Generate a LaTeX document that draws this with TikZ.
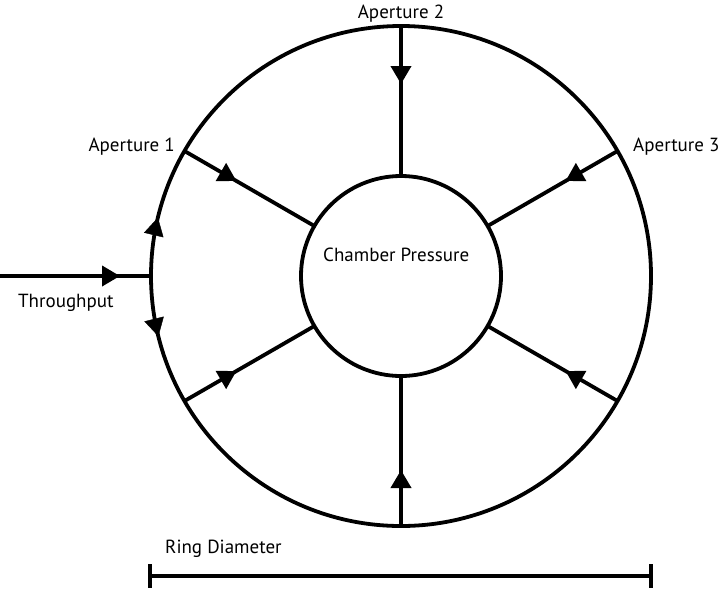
\documentclass[tikz,border=0pt]{standalone}
\usepackage{fontspec}
\setmainfont{PT Sans}
\usetikzlibrary{arrows.meta,decorations.markings}
\tikzset{
  ln/.style={line width=3.8pt},
  midarrow/.style={postaction={decorate},decoration={markings,mark=at position #1 with {\arrow{Triangle[width=20pt,length=18pt]}}}},
  ring/.style={ln, draw, circle, inner sep=0pt, outer sep=0pt},
  lbl/.style={font=\fontsize{19}{22}\selectfont, inner sep=0pt},
}
\begin{document}
\begin{tikzpicture}[x=1pt,y=-1pt]
\useasboundingbox (0,0) rectangle (722,590);
\node[ring, minimum size=500pt] (outer) at (401,276) {};
\node[ring, minimum size=200pt] (inner) at (401,276) {};
% spokes
\draw[ln, midarrow=58pt] (outer.90) -- (inner.90);
\draw[ln, midarrow=60pt] (outer.150) -- (inner.150);
\draw[ln, midarrow=60pt] (outer.30) -- (inner.30);
\draw[ln, midarrow=60pt] (outer.210) -- (inner.210);
\draw[ln, midarrow=60pt] (outer.330) -- (inner.330);
\draw[ln, midarrow=56pt] (outer.270) -- (inner.270);
% throughput
\coordinate (tin) at (0,276);
\draw[ln, midarrow=120pt] (tin) -- (outer.west);
\path[midarrow=59pt] (outer.west) arc[start angle=180, end angle=205, radius=250];
\path[midarrow=61pt] (outer.west) arc[start angle=180, end angle=155, radius=250];
% ring diameter bar
\coordinate (rl) at (150,576);
\coordinate (rr) at (651,576);
\draw[ln] (rl) -- (rr);
\draw[ln] ([yshift=12pt]rl) -- ([yshift=-12pt]rl);
\draw[ln] ([yshift=12pt]rr) -- ([yshift=-12pt]rr);
% labels
\node[lbl, anchor=base] (ap2) at (401,18) {Aperture 2};
\node[lbl, anchor=base east] (ap1) at (175,151) {Aperture 1};
\node[lbl, anchor=base west] (ap3) at (633,151) {Aperture 3};
\node[lbl, anchor=base west] (tp) at (18,307) {Throughput};
\node[lbl, anchor=base west] (cp) at (323,261) {Chamber Pressure};
\node[lbl, anchor=base west] (rd) at (165,553) {Ring Diameter};
\end{tikzpicture}
\end{document}
